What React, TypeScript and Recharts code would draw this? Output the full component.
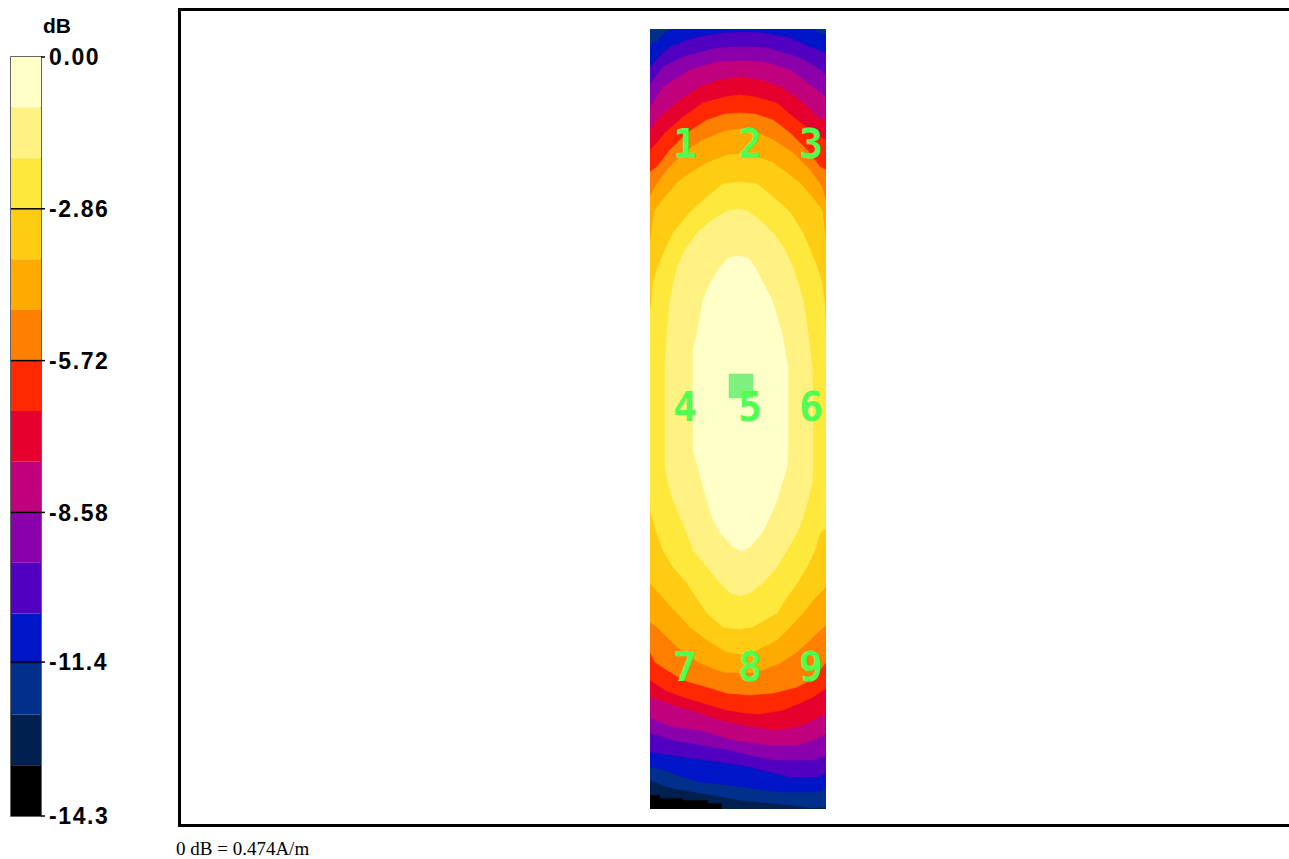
import React from 'react';
import { ScatterChart, Scatter, XAxis, YAxis, BarChart, Bar, ReferenceLine, ReferenceArea } from 'recharts';

// ---- colour scale (dB bands, top = 0 dB) ----
const BAND_COLORS = [
  '#FFFFC8', '#FFF282', '#FFE83C', '#FFCC14', '#FFAA00',
  '#FF8000', '#FF2800', '#E6002E', '#C0007C', '#8A00AA',
  '#5200C0', '#0014C8', '#00308C', '#002050', '#000000',
];
const BAND_STEPS_DB = [0.953, 0.953, 0.953, 0.953, 0.953, 0.953, 0.953, 0.953, 0.953, 0.953, 0.953, 0.953, 0.953, 0.953, 0.958];
const COLORBAR_TICKS = [0, -2.86, -5.72, -8.58, -11.4, -14.3];
const COLORBAR_LABELS = ['0.00', '-2.86', '-5.72', '-8.58', '-11.4', '-14.3'];

// ---- scan area extent (grid units) ----
const SCAN_X = [0, 176];
const SCAN_Y = [0, 780];

// ---- iso-level regions: region where band index <= k, outline points [x, y] ----
const LEVEL_0 = [[88,227],[78,229],[70,238],[60,254],[53,271],[50,288],[47,304],[43,321],[43,421],[48,438],[52,454],[57,471],[62,488],[70,504],[83,518],[91,522],[100,518],[112,504],[120,488],[127,471],[132,454],[137,438],[138,421],[138,338],[135,321],[132,304],[127,288],[122,271],[113,254],[105,238],[98,229]];
const LEVEL_1 = [[87,180],[77,182],[62,191],[47,204],[35,221],[27,238],[20,271],[17,304],[15,338],[15,438],[18,454],[23,471],[30,488],[37,504],[43,521],[57,538],[70,554],[80,564],[90,567],[100,564],[113,554],[127,538],[137,521],[147,504],[153,488],[158,471],[162,454],[163,438],[163,371],[162,338],[158,304],[153,271],[143,238],[135,221],[123,204],[110,191],[97,182]];
const LEVEL_2 = [[0,284],[2,271],[3,254],[8,238],[15,221],[23,204],[40,183],[57,168],[73,155],[90,153],[107,155],[123,168],[140,183],[153,204],[160,221],[167,238],[172,254],[174,271],[176,298],[176,499],[170,504],[165,521],[157,538],[147,554],[135,571],[127,584],[102,598],[90,600],[73,598],[57,584],[48,571],[37,554],[23,538],[13,521],[7,504],[0,481]];
const LEVEL_3 = [[0,214],[2,198],[5,181],[15,168],[27,154],[40,144],[57,134],[77,126],[90,125],[103,126],[123,134],[137,144],[150,154],[162,168],[172,181],[174,198],[176,211],[176,558],[163,571],[153,584],[140,598],[127,611],[103,623],[90,625],[77,623],[57,611],[40,598],[27,584],[15,571],[0,554]];
const LEVEL_4 = [[0,168],[5,158],[17,141],[33,124],[53,111],[75,102],[90,100],[105,102],[123,111],[143,124],[160,141],[172,158],[176,173],[176,596],[170,601],[160,611],[147,623],[130,634],[107,643],[95,644],[73,643],[50,634],[33,623],[20,611],[7,598],[0,593]];
const LEVEL_5 = [[0,143],[7,138],[20,121],[37,104],[57,91],[75,85],[90,84],[105,85],[123,91],[140,104],[157,121],[170,138],[176,141],[176,633],[170,641],[160,651],[147,658],[123,664],[100,666],[77,664],[57,658],[33,651],[17,641],[5,633],[0,623]];
const LEVEL_6 = [[0,121],[7,114],[15,104],[33,88],[53,74],[75,68],[90,66],[105,68],[127,74],[143,88],[160,101],[172,109],[176,111],[176,659],[163,668],[150,674],[133,681],[110,685],[95,684],[77,681],[53,674],[33,668],[15,661],[0,651]];
const LEVEL_7 = [[0,101],[10,88],[30,71],[50,58],[70,51],[90,48],[110,51],[130,58],[150,71],[167,88],[176,91],[176,684],[163,691],[147,698],[125,701],[103,698],[70,691],[50,684],[23,676],[10,671],[0,668]];
const LEVEL_8 = [[0,78],[7,68],[13,58],[40,41],[67,33],[90,32],[113,33],[140,41],[163,58],[176,68],[176,704],[163,711],[147,716],[117,716],[83,711],[50,701],[23,698],[10,693],[0,689]];
const LEVEL_9 = [[0,56],[7,46],[13,38],[33,28],[67,19],[92,18],[117,19],[147,28],[167,38],[176,46],[176,726],[163,731],[123,731],[100,726],[70,719],[40,714],[23,711],[10,707],[0,704]];
const LEVEL_10 = [[0,38],[13,24],[20,18],[43,9],[73,4],[93,3],[113,4],[140,9],[160,18],[176,24],[176,744],[168,748],[140,748],[123,744],[100,738],[70,733],[40,729],[20,726],[0,723]];
const LEVEL_11 = [[0,16],[7,13],[10,9],[15,4],[20,0],[165,0],[168,4],[176,6],[176,759],[167,763],[133,763],[100,759],[80,756],[50,753],[30,747],[15,741],[0,738]];
const LEVEL_12 = [[0,0],[176,0],[176,778],[163,779],[140,776],[90,771],[50,764],[17,758],[0,751]];
const LEVEL_13 = [[0,0],[176,0],[176,780],[72,780],[72,774],[58,774],[58,771],[33,771],[33,769],[10,769],[10,766],[0,766]];
const LEVEL_14 = [[0,0],[176,0],[176,780],[0,780]];
const LEVELS = [LEVEL_0, LEVEL_1, LEVEL_2, LEVEL_3, LEVEL_4, LEVEL_5, LEVEL_6, LEVEL_7, LEVEL_8, LEVEL_9, LEVEL_10, LEVEL_11, LEVEL_12, LEVEL_13, LEVEL_14];

// ---- peak marker and measurement points ----
const PEAK_BOX = [[79,345],[103,345],[103,369],[79,369]];
const POINT_LABELS = ['1', '2', '3', '4', '5', '6', '7', '8', '9'];
const POINT_X = [35, 100, 161, 35, 100, 161, 35, 100, 161];
const POINT_Y = [115, 115, 115, 378, 378, 378, 638, 638, 638];

const FOOTER = '0 dB = 0.474A/m';

const nothing = () => <g />;

function polygonLine(color: string) {
  return (props: any) => {
    const pts = (props.points || []) as { x: number; y: number }[];
    const d = pts.map((p, i) => `${i ? 'L' : 'M'}${p.x},${p.y}`).join('') + 'Z';
    return <path d={d} fill={color} stroke={color} strokeWidth={0.6} />;
  };
}

const toPoints = (arr: number[][]) => arr.map(([x, y]) => ({ x, y }));

const pointData = POINT_LABELS.map((label, i) => ({ x: POINT_X[i], y: POINT_Y[i], label }));

const colorbarRow: Record<string, any> = { name: 'scale' };
BAND_STEPS_DB.forEach((v, i) => { colorbarRow[`b${i}`] = -v; });

const renderColorbarTick = (props: any) => {
  const { x, y, payload } = props;
  const idx = COLORBAR_TICKS.indexOf(payload.value);
  return (
    <text x={x} y={y} dy="0.36em" textAnchor="start" fontFamily="'Liberation Sans', Arial, sans-serif"
      fontWeight="bold" fontSize={23} letterSpacing={1.6} fill="#000">
      {idx >= 0 ? COLORBAR_LABELS[idx] : ''}
    </text>
  );
};

const renderPointLabel = (props: any) => (
  <text x={props.cx} y={props.cy} textAnchor="middle" dominantBaseline="central"
    fontFamily="'DejaVu Sans Mono', monospace" fontWeight="bold" fontSize={40} fill="#50FF50">
    {props.payload.label}
  </text>
);

export default function App() {
  return (
    <div style={{ position: 'absolute', left: 0, top: 0, width: 1289, height: 859, background: '#fff', overflow: 'hidden' }}>
      <svg width={1289} height={859} style={{ position: 'absolute', left: 0, top: 0 }}>
        <rect x={179.5} y={9.5} width={1200} height={816} fill="none" stroke="#000" strokeWidth={3} />
        <text x={43} y={33} fontFamily="'Liberation Sans', Arial, sans-serif" fontWeight="bold" fontSize={21} fill="#000">dB</text>
        <text x={176} y={855} fontFamily="'Liberation Serif', 'Times New Roman', serif" fontSize={19} fill="#000">{FOOTER}</text>
      </svg>

      <div style={{ position: 'absolute', left: 0, top: 0 }}>
        <BarChart width={120} height={859} data={[colorbarRow]} margin={{ top: 57, bottom: 43, left: 11, right: 9 }}
          barCategoryGap={0} barGap={0}>
          <XAxis dataKey="name" hide />
          <YAxis orientation="right" type="number" domain={[-14.3, 0]} ticks={COLORBAR_TICKS} interval={0}
            width={70} axisLine={false} tickLine={{ stroke: '#000', strokeWidth: 1.5 }} tickSize={4} tickMargin={4}
            tick={renderColorbarTick} allowDataOverflow />
          {BAND_COLORS.map((c, i) => (
            <Bar key={i} dataKey={`b${i}`} stackId="cb" fill={c} isAnimationActive={false} />
          ))}
          {COLORBAR_TICKS.slice(1, -1).map((t) => (
            <ReferenceLine key={t} y={t} stroke="#000" strokeWidth={1.5} />
          ))}
          <ReferenceArea y1={-14.3} y2={0} fill="none" stroke="#333" strokeWidth={1.5} />
        </BarChart>
      </div>

      <div style={{ position: 'absolute', left: 0, top: 0 }}>
        <ScatterChart width={1289} height={859} margin={{ top: 29, left: 650, right: 463, bottom: 50 }}>
          <XAxis dataKey="x" type="number" domain={SCAN_X} hide allowDataOverflow />
          <YAxis dataKey="y" type="number" domain={SCAN_Y} reversed hide allowDataOverflow />
          {LEVELS.map((_, j) => {
            const k = LEVELS.length - 1 - j;
            return (
              <Scatter key={`lvl${k}`} data={toPoints(LEVELS[k])} isAnimationActive={false}
                shape={nothing} line={polygonLine(BAND_COLORS[k])} lineType="joint" />
            );
          })}
          <Scatter data={toPoints(PEAK_BOX)} isAnimationActive={false} shape={nothing}
            line={polygonLine('#7DF07D')} lineType="joint" />
          <Scatter data={pointData} isAnimationActive={false} shape={renderPointLabel} />
        </ScatterChart>
      </div>
    </div>
  );
}
